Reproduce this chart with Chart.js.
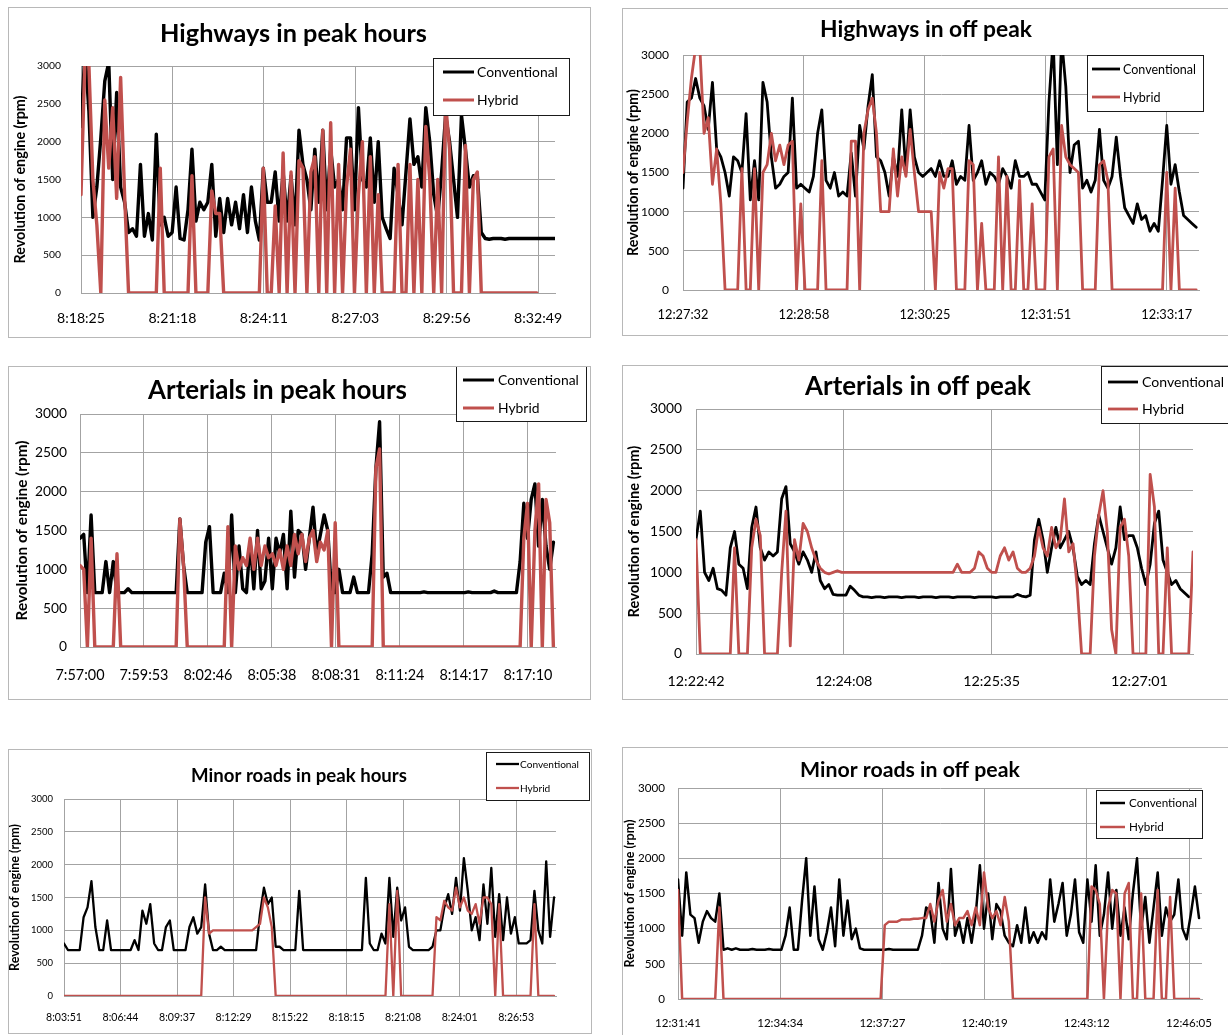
<!DOCTYPE html>
<html><head><meta charset="utf-8">
<script src="https://cdn.jsdelivr.net/npm/chart.js@4.4.1/dist/chart.umd.min.js"></script>
<style>
html,body{margin:0;padding:0;background:#fff;overflow:hidden;width:1228px;height:1035px;position:relative;}
canvas{position:absolute;}
</style></head><body>
<canvas id="c1"></canvas><canvas id="c2"></canvas><canvas id="c3"></canvas>
<canvas id="c4"></canvas><canvas id="c5"></canvas><canvas id="c6"></canvas>
<script>
// ---------------- DATA ----------------
const seriesNames = ['Conventional', 'Hybrid'];
const yAxisTitle = 'Revolution of engine (rpm)';
const yMax = 3000, yStep = 500;

// Highways in peak hours (sample every 7.5 s, ticks every 173 s)
const hwPeakTitle = 'Highways in peak hours';
const hwPeakTicks = ['8:18:25','8:21:18','8:24:11','8:27:03','8:29:56','8:32:49'];
const hwPeakSpan = 897, hwPeakTickStep = 173, hwPeakStep = 7.5;
const hwPeakConv = [2200,3200,2400,1000,1400,2050,2800,3050,1500,2650,
1400,1200,800,850,750,1700,750,1050,700,2100,
900,1000,750,800,1400,720,700,1100,1900,950,
1200,1100,1200,1700,750,1250,800,1250,900,1200,
850,1300,800,1400,950,700,1650,1200,1200,1600,
950,1600,950,1550,900,2150,1700,1500,1100,1900,
1200,2150,1100,1900,1400,1500,1100,2050,2050,1100,
2450,1500,1400,2050,1200,2000,1000,850,720,1650,
1300,900,1600,2300,1700,1800,1400,2450,2000,1300,
1000,1600,2350,2000,1500,1000,2350,1900,1400,1550,
1550,800,720,710,720,720,720,710,720,720,
720,720,720,720,720,720,720,720,720,720,720];
const hwPeakHyb = [1300,3100,3000,1500,900,0,2550,1650,2450,1250,
2850,1300,0,0,0,0,0,0,0,0,
1650,0,0,0,0,0,0,0,1550,0,
0,0,0,1350,1050,1050,0,0,0,0,
0,0,0,0,0,0,1650,0,0,1150,
0,1850,0,1600,0,1750,1650,0,1600,1800,
0,2150,0,2250,0,1700,0,1400,1900,0,
1300,2000,0,1800,0,1300,0,0,0,0,
1700,0,0,1700,0,1500,0,2200,1500,0,
1500,0,2500,1900,0,0,0,1950,0,1500,
1600,0,0,0,0,0,0,0,0,0,
0,0,0,0,0,0];

// Highways in off peak (sample every 3 s)
const hwOffTitle = 'Highways in off peak';
const hwOffTicks = ['12:27:32','12:28:58','12:30:25','12:31:51','12:33:17'];
const hwOffSpan = 368, hwOffTickStep = 86.25, hwOffStep = 3;
const hwOffConv = [1300,2400,2450,2700,2450,2350,2050,2650,1800,1700,
1500,1200,1700,1650,1500,2250,1150,1650,1150,2650,
2400,1700,1300,1350,1450,1500,2450,1300,1350,1300,
1250,1450,2000,2300,1400,1300,1500,1200,1250,1200,
1750,1200,2100,1800,2350,2750,1700,1650,1500,1200,
1700,1450,2300,1500,2300,1700,1500,1450,1500,1550,
1450,1650,1450,1450,1650,1350,1450,1400,2100,1400,
1500,1650,1350,1500,1450,1350,1550,1450,1300,1650,
1450,1450,1500,1350,1350,1250,1150,2400,3200,1600,
3200,2600,1500,1850,1900,1300,1400,1250,1400,2050,
1400,1300,1450,1950,1450,1050,950,850,1100,900,
950,750,850,750,1400,2100,1350,1600,1250,950,
900,850,800];
const hwOffHyb = [1500,2150,2700,3100,3100,2000,2200,1350,1800,1100,
0,0,0,0,1550,0,0,1550,0,1500,
1600,2000,1650,1850,1600,1850,1900,0,1100,0,
0,0,0,1650,0,0,0,0,0,0,
1900,1900,0,2000,2300,2450,2000,1000,1000,1000,
1800,1200,1700,1450,2050,1500,1000,1000,1000,1000,
0,1500,1300,1550,1550,0,0,0,1650,1600,
0,850,0,0,0,1700,0,1450,0,0,
1400,0,0,1100,0,0,0,1700,1800,0,
2100,1700,1600,1550,1500,0,0,0,0,1600,
1650,1400,0,0,0,0,0,0,0,0,
0,0,0,0,0,1500,0,1300,0,0,
0,0,0];

// Arterials in peak hours (sample every 10 s)
const artPeakTitle = 'Arterials in peak hours';
const artPeakTicks = ['7:57:00','7:59:53','8:02:46','8:05:38','8:08:31','8:11:24','8:14:17','8:17:10'];
const artPeakSpan = 1287, artPeakTickStep = 173, artPeakStep = 10;
const artPeakConv = [1400,1450,700,1700,700,700,700,1100,700,1100,
700,700,700,750,700,700,700,700,700,700,
700,700,700,700,700,700,700,1650,1050,700,
700,700,700,700,1350,1550,700,700,700,950,
700,1700,700,1300,750,700,1350,750,1500,750,
850,1400,750,1400,1200,1450,750,1750,900,1500,
1450,1000,1400,1800,1200,1450,1700,1500,700,700,
1000,700,700,700,900,700,700,700,700,1200,
2300,2900,900,950,700,700,700,700,700,700,
700,700,700,710,700,700,700,700,700,700,
700,700,700,700,700,710,700,700,700,700,
700,700,720,700,700,700,700,700,700,1100,
1850,1400,1900,2100,1300,1900,1300,1000,1350];
const artPeakHyb = [1050,1000,0,1400,0,0,0,0,0,0,
1200,0,0,0,0,0,0,0,0,0,
0,0,0,0,0,0,0,1650,1050,0,
0,0,0,0,0,0,0,0,0,0,
1550,0,1300,1000,1150,1050,1400,1000,1400,1050,
1300,1150,1200,1050,1250,1000,1300,1050,1450,1200,
1450,1100,1400,1500,1100,1350,1250,1500,0,1600,
0,0,0,0,0,0,0,0,0,0,
2300,2550,0,0,0,0,0,0,0,0,
0,0,0,0,0,0,0,0,0,0,
0,0,0,0,0,0,0,0,0,0,
0,0,0,0,0,0,0,0,0,0,
1400,1850,0,1500,2100,0,1900,1600,0];

// Arterials in off peak (sample every 2.5 s)
const artOffTitle = 'Arterials in off peak';
const artOffTicks = ['12:22:42','12:24:08','12:25:35','12:27:01'];
const artOffSpan = 290, artOffTickStep = 86.25, artOffStep = 2.5;
const artOffConv = [1400,1750,1000,900,1050,800,780,720,1300,1500,
1100,1050,800,1550,1800,1300,1150,1250,1200,1250,
1900,2050,1350,1250,1100,1250,1150,1000,1250,900,
800,850,730,720,720,720,830,780,720,700,
700,690,700,700,690,700,700,700,690,700,
700,700,690,700,700,700,690,700,700,700,
690,700,700,700,700,690,700,700,700,700,
690,700,700,700,700,730,710,700,720,1400,
1650,1400,1000,1300,1550,1300,1400,1500,1300,950,
850,900,850,1350,1700,1500,1300,1100,1300,1800,
1400,1450,1450,1300,1050,850,1100,1600,1750,1150,
1000,850,900,800,750,700];
const artOffHyb = [1400,0,0,0,0,0,0,0,0,1300,
0,0,0,1300,1650,1450,0,0,0,0,
1000,1750,100,1400,1150,1600,1500,1300,1150,1050,
1000,980,1000,1020,1000,1000,1000,1000,1000,1000,
1000,1000,1000,1000,1000,1000,1000,1000,1000,1000,
1000,1000,1000,1000,1000,1000,1000,1000,1000,1000,
1000,1100,1000,1000,1000,1050,1250,1200,1050,1000,
1000,1200,1300,1150,1250,1050,1000,1000,1050,1200,
1550,1300,1200,1550,1300,1400,1900,1250,1350,800,
0,0,0,1200,1700,2000,1500,300,0,1550,
1650,1200,0,0,0,0,2200,1800,0,0,
1300,0,0,0,0,0,1250];

// Minor roads in peak hours (sample every 12 s)
const minPeakTitle = 'Minor roads in peak hours';
const minPeakTicks = ['8:03:51','8:06:44','8:09:37','8:12:29','8:15:22','8:18:15','8:21:08','8:24:01','8:26:53'];
const minPeakSpan = 1506, minPeakTickStep = 173, minPeakStep = 12;
const minPeakConv = [800,700,700,700,700,1200,1350,1750,1050,700,
700,1150,700,700,700,700,700,700,850,700,
1300,1100,1400,800,700,700,1050,1150,700,700,
700,700,1050,1200,950,1050,1700,950,700,700,
750,700,700,700,700,700,700,700,700,700,
1250,1650,1400,1500,750,750,700,700,700,700,
1600,700,700,700,700,700,700,700,700,700,
700,700,700,700,700,700,700,1800,800,700,
700,950,800,1800,900,1650,1150,1350,750,700,
700,700,700,700,750,1000,1000,1350,1550,1250,
1800,1300,2100,1600,1000,1200,850,1700,1100,1950,
900,1550,850,1500,950,1200,800,800,800,850,
1600,1000,800,2050,900,1500];
const minPeakHyb = [0,0,0,0,0,0,0,0,0,0,
0,0,0,0,0,0,0,0,0,0,
0,0,0,0,0,0,0,0,0,0,
0,0,0,0,0,0,1500,950,1000,1000,
1000,1000,1000,1000,1000,1000,1000,1000,1000,1050,
1100,1500,1350,1050,0,0,0,0,0,0,
0,0,0,0,0,0,0,0,0,0,
0,0,0,0,0,0,0,0,0,0,
0,0,0,1400,0,1600,0,0,0,0,
0,0,0,0,0,1200,1150,1450,1350,1300,
1650,1350,1500,1300,1250,1400,1100,1500,1500,1400,
0,1400,0,0,0,0,0,0,0,0,
1400,0,0,0,0,0];

// Minor roads in off peak (sample every 7 s)
const minOffTitle = 'Minor roads in off peak';
const minOffTicks = ['12:31:41','12:34:34','12:37:27','12:40:19','12:43:12','12:46:05'];
const minOffSpan = 887, minOffTickStep = 173, minOffStep = 7;
const minOffConv = [1700,900,1800,1200,1150,800,1100,1250,1150,1100,
1500,700,720,700,720,700,700,700,710,700,
700,700,710,700,700,700,900,1300,700,700,
1400,2000,900,1600,850,700,950,1300,750,1700,
900,1400,850,1000,720,700,700,700,700,700,
700,710,700,700,700,700,700,700,700,900,
1300,1250,800,1650,1000,850,1850,900,1100,800,
1150,800,1200,1900,1000,1500,850,1350,1250,900,
800,750,1050,800,1300,800,950,800,950,850,
1700,1100,1350,1650,900,1200,1700,950,800,1700,
1100,1900,900,1200,1800,1000,1550,900,1300,850,
1500,2000,1000,1450,800,1300,1800,900,1300,1100,
1200,1700,1000,850,1200,1600,1150];
const minOffHyb = [1550,0,0,0,0,0,0,0,0,0,
1300,0,0,0,0,0,0,0,0,0,
0,0,0,0,0,0,0,0,0,0,
0,0,0,0,0,0,0,0,0,0,
0,0,0,0,0,0,0,0,0,0,
1050,1100,1100,1100,1130,1130,1130,1140,1140,1150,
1150,1350,1100,1400,1550,1100,1350,1050,1150,1150,
1250,1050,1300,1050,1800,1300,1150,1250,1050,1450,
1100,0,0,0,0,0,0,0,0,0,
0,0,0,0,0,0,0,0,0,0,
1600,1550,1350,0,1300,1550,1500,0,1500,1650,
0,0,1500,0,0,0,1550,0,0,1450,
0,0,0,0,0,0,0];

// ---------------- LAYOUT / STYLE ----------------
const FAMILY = 'Lato, "Open Sans", "DejaVu Sans", sans-serif';
const GRID = '#a3a3a3';
const BORDER = '#b8b8b8';
const CONV_COLOR = '#000000';
const HYB_COLOR = '#C0504D';

const panels = [
  {cv:'c1', title:hwPeakTitle, ticks:hwPeakTicks, span:hwPeakSpan, tickStep:hwPeakTickStep, step:hwPeakStep, conv:hwPeakConv, hyb:hwPeakHyb,
   box:[8,7,590,337], plot:[81,66,555,293], titleW:267, titleCX:293.5, titleBase:41.7,
   yTickW:24, xTickW:48, yTitleW:168, yTitleCX:20, yGap:20, xTickCY:318, lw:3.4,
   legBox:[433,58,569,115], legLine:[443,474], legText:477, legRows:[72,100], legW:81},
  {cv:'c2', title:hwOffTitle, ticks:hwOffTicks, span:hwOffSpan, tickStep:hwOffTickStep, step:hwOffStep, conv:hwOffConv, hyb:hwOffHyb,
   box:[622,8,1240,335], plot:[683,55,1199,290], titleW:212, titleCX:926, titleBase:36.7,
   yTickW:28, xTickW:51, yTitleW:167, yTitleCX:633, yGap:14, xTickCY:315, lw:2.8,
   legBox:[1087,55,1203,111], legLine:[1092,1120], legText:1123, legRows:[69,97], legW:73},
  {cv:'c3', title:artPeakTitle, ticks:artPeakTicks, span:artPeakSpan, tickStep:artPeakTickStep, step:artPeakStep, conv:artPeakConv, hyb:artPeakHyb,
   box:[8,366,590,699], plot:[80,414,556,647], titleW:259, titleCX:277.5, titleBase:399,
   yTickW:32, xTickW:49, yTitleW:180, yTitleCX:22, yGap:13, xTickCY:675, lw:3.4,
   legBox:[456,366,586,421], legLine:[463,494], legText:498, legRows:[380,408], legW:81},
  {cv:'c4', title:artOffTitle, ticks:artOffTicks, span:artOffSpan, tickStep:artOffTickStep, step:artOffStep, conv:artOffConv, hyb:artOffHyb,
   box:[622,365,1240,699], plot:[696,409,1193,654], titleW:226, titleCX:918, titleBase:395,
   yTickW:32, xTickW:57, yTitleW:172, yTitleCX:634, yGap:14, xTickCY:681, lw:2.8,
   legBox:[1101,366,1245,423], legLine:[1108,1138], legText:1142, legRows:[382,409], legW:82},
  {cv:'c5', title:minPeakTitle, ticks:minPeakTicks, span:minPeakSpan, tickStep:minPeakTickStep, step:minPeakStep, conv:minPeakConv, hyb:minPeakHyb,
   box:[8,749,591,1033], plot:[64,799,556,996], titleW:216, titleCX:299, titleBase:782,
   yTickW:22, xTickW:36, yTitleW:147, yTitleCX:15, yGap:11, xTickCY:1018, lw:2.3,
   legBox:[486,752,589,800], legLine:[496,519], legText:520, legRows:[764,788], legW:59},
  {cv:'c6', title:minOffTitle, ticks:minOffTicks, span:minOffSpan, tickStep:minOffTickStep, step:minOffStep, conv:minOffConv, hyb:minOffHyb,
   box:[622,747,1240,1045], plot:[678,788,1202,999], titleW:220, titleCX:910, titleBase:777,
   yTickW:27, xTickW:46, yTitleW:148, yTitleCX:630, yGap:13, xTickCY:1023, lw:2.5,
   legBox:[1096,790,1202,838], legLine:[1100,1125], legText:1129, legRows:[803,827], legW:68}
];

const mctx = document.createElement('canvas').getContext('2d');
function fit(text, weight, target) {
  mctx.font = weight + ' 100px ' + FAMILY;
  return 100 * target / mctx.measureText(text).width;
}
function toXY(vals, step) { return vals.map((v, i) => ({x: i * step, y: v})); }

const decor = {
  id: 'decor',
  afterDraw(chart, args, o) {
    const ctx = chart.ctx;
    const W = chart.width, H = chart.height;
    ctx.save();
    ctx.fillStyle = '#000';
    ctx.font = 'bold ' + o.titleSize + 'px ' + FAMILY;
    ctx.textAlign = 'center';
    ctx.textBaseline = 'alphabetic';
    ctx.fillText(o.title, o.titleX, o.titleY);
    const b = o.legBox;
    ctx.fillStyle = '#fff';
    ctx.fillRect(b[0], b[1], b[2] - b[0], b[3] - b[1]);
    ctx.strokeStyle = '#1a1a1a';
    ctx.lineWidth = 1;
    ctx.strokeRect(b[0] + 0.5, b[1] + 0.5, b[2] - b[0], b[3] - b[1]);
    ctx.font = o.legSize + 'px ' + FAMILY;
    ctx.textAlign = 'left';
    ctx.textBaseline = 'middle';
    chart.data.datasets.forEach((ds, i) => {
      const y = o.legRows[i];
      ctx.strokeStyle = ds.borderColor;
      ctx.lineWidth = Math.min(o.lw, 3);
      ctx.beginPath();
      ctx.moveTo(o.legLine[0], y);
      ctx.lineTo(o.legLine[1], y);
      ctx.stroke();
      ctx.fillStyle = '#000';
      ctx.fillText(ds.label, o.legText, y + 0.5);
    });
    ctx.strokeStyle = BORDER;
    ctx.lineWidth = 1;
    ctx.strokeRect(0.5, 0.5, W - 1, H - 1);
    ctx.restore();
  }
};

panels.forEach(p => {
  const [bx0, by0, bx1, by1] = p.box;
  const W = bx1 - bx0 + 1, H = by1 - by0 + 1;
  const cv = document.getElementById(p.cv);
  cv.width = W; cv.height = H;
  cv.style.left = bx0 + 'px'; cv.style.top = by0 + 'px';
  cv.style.width = W + 'px'; cv.style.height = H + 'px';
  const [px0, py0, px1, py1] = p.plot;
  const yAxisW = px0 - bx0;
  const xAxisH = (by0 + H) - py1;
  const yTickSize = fit('3000', 'normal', p.yTickW);
  const xTickSize = fit(p.ticks[0], 'normal', p.xTickW);
  const yTitleSize = fit(yAxisTitle, 'bold', p.yTitleW);
  const titleSize = fit(p.title, 'bold', p.titleW);
  const legSize = fit(seriesNames[0], 'normal', p.legW);
  const sh = (a) => a.map(v => v - bx0);
  const sv = (a) => a.map(v => v - by0);
  new Chart(cv, {
    type: 'line',
    data: {datasets: [
      {label: seriesNames[0], data: toXY(p.conv, p.step), borderColor: CONV_COLOR, borderWidth: p.lw, order: 1},
      {label: seriesNames[1], data: toXY(p.hyb, p.step), borderColor: HYB_COLOR, borderWidth: p.lw, order: 0}
    ]},
    options: {
      responsive: false, animation: false, devicePixelRatio: 1,
      layout: {padding: {left: 0, top: py0 - by0, right: (bx0 + W) - px1, bottom: 0}},
      elements: {point: {radius: 0}, line: {tension: 0, borderJoinStyle: 'round', borderCapStyle: 'round', fill: false}},
      plugins: {
        legend: {display: false}, tooltip: {enabled: false}, title: {display: false},
        decor: {
          title: p.title, titleSize: titleSize, titleX: p.titleCX - bx0, titleY: p.titleBase - by0,
          legBox: [p.legBox[0] - bx0, p.legBox[1] - by0, p.legBox[2] - bx0, p.legBox[3] - by0],
          legLine: sh(p.legLine), legText: p.legText - bx0, legRows: sv(p.legRows), legSize: legSize, lw: p.lw
        }
      },
      scales: {
        x: {
          type: 'linear', min: 0, max: p.span,
          afterBuildTicks: s => { s.ticks = p.ticks.map((t, i) => ({value: i * p.tickStep})); },
          afterFit: s => { s.height = xAxisH; },
          ticks: {autoSkip: false, maxRotation: 0, minRotation: 0, color: '#000',
                  padding: p.xTickCY - py1 - xTickSize * 0.6,
                  font: {family: FAMILY, size: xTickSize, lineHeight: 1.2},
                  callback: (v, i) => p.ticks[i]},
          grid: {color: GRID, drawTicks: false, lineWidth: 1},
          border: {color: GRID, width: 1}
        },
        y: {
          min: 0, max: yMax,
          afterFit: s => { s.width = yAxisW; },
          ticks: {stepSize: yStep, color: '#000', padding: p.yGap,
                  font: {family: FAMILY, size: yTickSize, lineHeight: 1.2},
                  callback: v => String(v)},
          grid: {color: GRID, drawTicks: false, lineWidth: 1},
          border: {color: GRID, width: 1},
          title: {display: true, text: yAxisTitle, color: '#000',
                  font: {family: FAMILY, size: yTitleSize, weight: 'bold', lineHeight: 1},
                  padding: {top: p.yTitleCX - bx0 - yTitleSize / 2, bottom: 0}}
        }
      }
    },
    plugins: [decor]
  });
});
</script>
</body></html>
